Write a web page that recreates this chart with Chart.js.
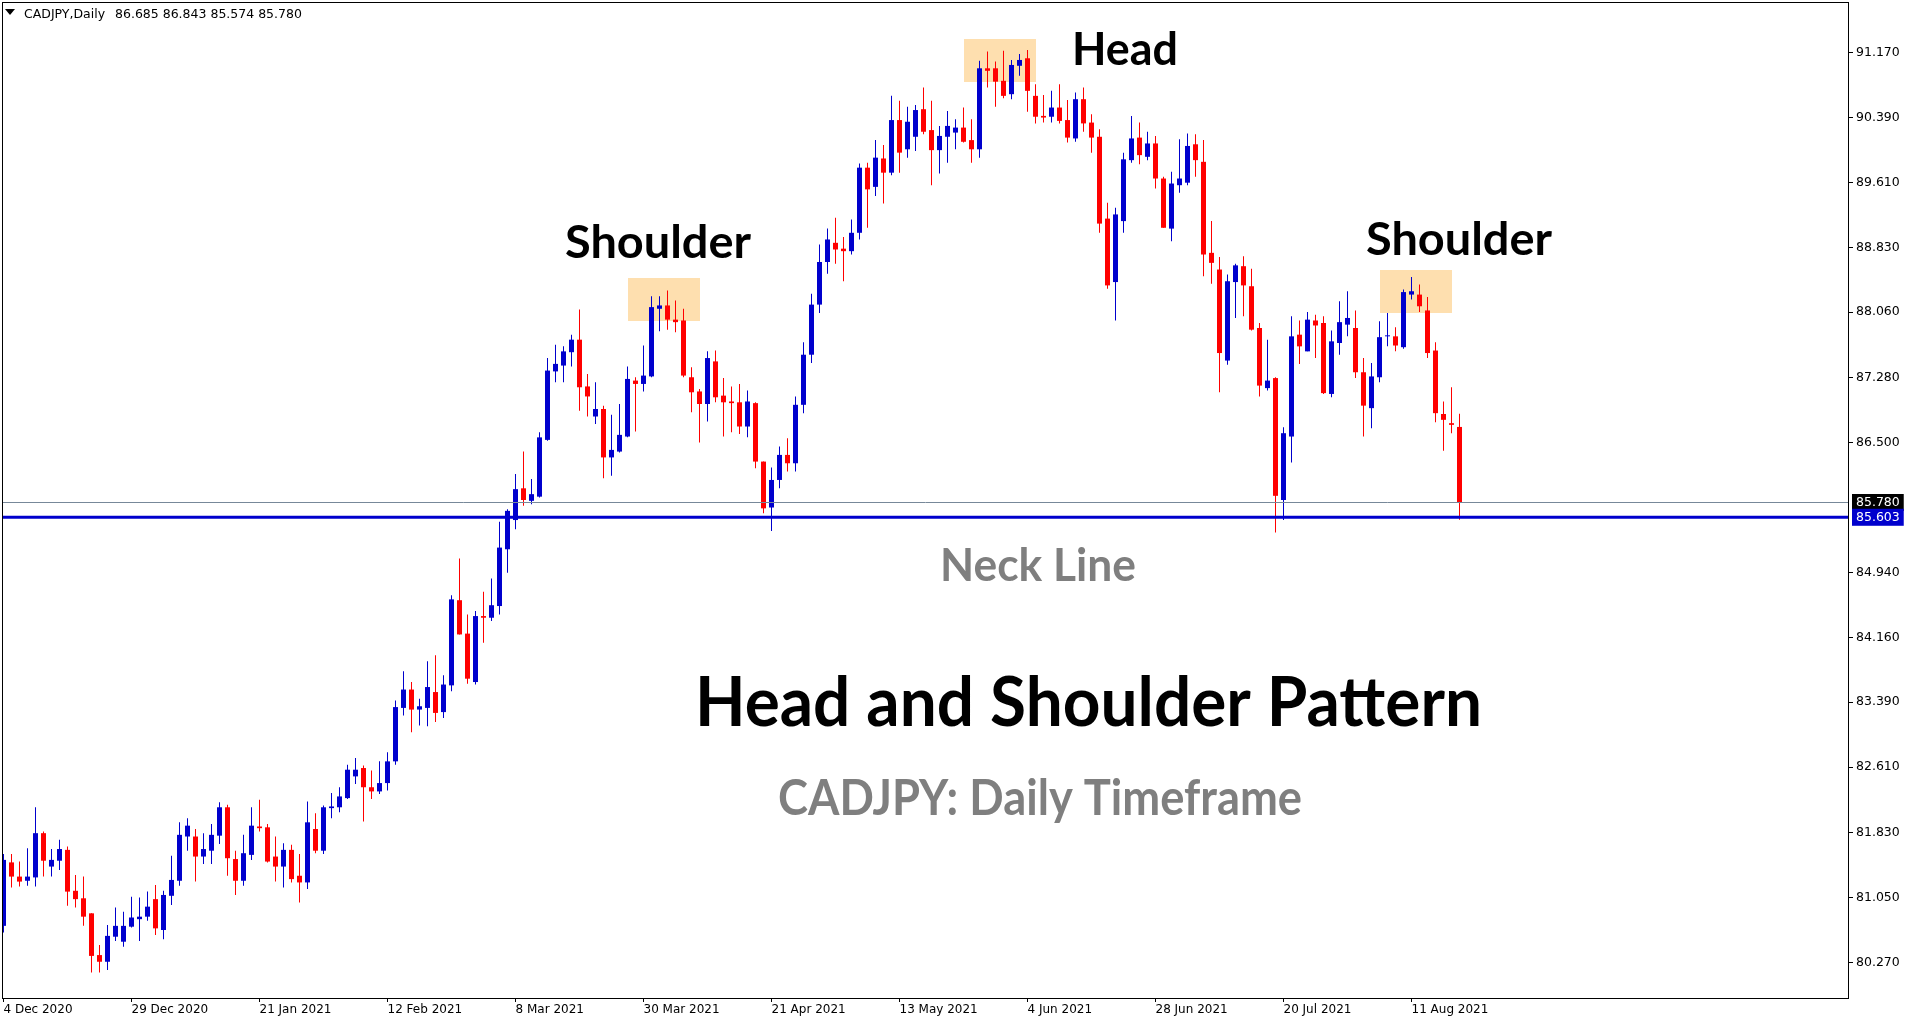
<!DOCTYPE html>
<html>
<head>
<meta charset="utf-8">
<title>CADJPY Daily - Head and Shoulder Pattern</title>
<script src="https://cdn.jsdelivr.net/npm/chart.js@4.4.1/dist/chart.umd.min.js"></script>
<style>
  html, body { margin: 0; padding: 0; background: #ffffff; overflow: hidden; }
  canvas { display: block; }
</style>
</head>
<body>
<canvas id="chart" width="1913" height="1023"></canvas>
<script>
// ---- CADJPY daily candles, 4 Dec 2020 onward (one entry per trading day) ----
const symbolLabel = 'CADJPY,Daily';

const opens = [
  80.71, 81.47, 81.30, 81.25, 81.29, 81.82, 81.42, 81.49, 81.62, 81.13,
  81.04, 80.86, 80.36, 80.28, 80.58, 80.52, 80.70, 80.79, 80.82, 81.03,
  80.66, 81.07, 81.25, 81.78, 81.78, 81.54, 81.61, 81.79, 82.13, 81.51,
  81.25, 81.56, 81.90, 81.89, 81.54, 81.42, 81.62, 81.31, 81.23, 81.87,
  81.61, 82.12, 82.13, 82.24, 82.50, 82.60, 82.37, 82.32, 82.42, 82.68,
  83.32, 83.54, 83.30, 83.32, 83.51, 83.27, 83.59, 84.61, 84.21, 83.63,
  84.42, 84.40, 84.54, 85.22, 85.57, 85.95, 85.80, 85.85, 86.53, 87.35,
  87.42, 87.58, 87.73, 87.17, 86.81, 86.90, 86.32, 86.39, 86.57, 87.24,
  87.20, 87.29, 88.10, 88.14, 87.97, 87.96, 87.28, 87.11, 86.96, 87.47,
  87.06, 86.99, 86.98, 86.69, 86.97, 86.27, 85.72, 86.05, 86.35, 86.25,
  86.95, 87.55, 88.15, 88.66, 88.89, 88.82, 88.79, 89.01, 89.79, 89.56,
  89.90, 89.73, 90.36, 90.01, 90.16, 90.49, 90.24, 90.00, 90.16, 90.21,
  90.27, 90.12, 90.01, 90.98, 90.98, 90.83, 90.67, 91.01, 91.10, 90.65,
  90.41, 90.40, 90.51, 90.36, 90.14, 90.61, 90.33, 90.16, 89.18, 88.42,
  89.15, 89.88, 90.15, 89.92, 90.08, 89.66, 89.06, 89.58, 89.61, 90.07,
  89.86, 88.77, 88.57, 87.48, 88.42, 88.61, 88.37, 87.87, 87.15, 87.27,
  85.81, 86.57, 87.79, 87.59, 87.96, 87.93, 87.08, 87.69, 87.91, 87.87,
  87.34, 86.91, 87.28, 87.77, 87.77, 87.64, 88.27, 88.27, 88.08, 87.60,
  86.84, 86.73, 86.685
];

const highs = [
  81.57, 81.57, 81.48, 81.64, 82.13, 81.84, 81.63, 81.74, 81.66, 81.32,
  81.30, 80.86, 80.48, 80.72, 80.93, 80.88, 81.06, 81.05, 81.12, 81.20,
  81.13, 81.55, 81.95, 82.00, 81.87, 81.82, 81.93, 82.19, 82.16, 81.61,
  81.80, 82.13, 82.22, 81.93, 81.78, 81.70, 81.68, 81.57, 82.20, 82.06,
  82.15, 82.30, 82.37, 82.64, 82.72, 82.63, 82.57, 82.68, 82.79, 83.41,
  83.76, 83.63, 83.43, 83.88, 83.95, 83.71, 84.67, 85.11, 84.44, 84.48,
  84.71, 84.87, 85.55, 85.70, 86.12, 86.39, 86.06, 86.62, 87.51, 87.67,
  87.65, 87.79, 88.09, 87.32, 87.22, 86.94, 86.83, 86.96, 87.41, 87.28,
  87.66, 88.25, 88.25, 88.32, 88.20, 88.10, 87.40, 87.14, 87.59, 87.60,
  87.27, 87.17, 87.20, 87.12, 86.98, 86.27, 86.20, 86.45, 86.55, 87.05,
  87.70, 88.28, 88.87, 89.06, 89.19, 88.96, 89.17, 89.84, 89.85, 90.12,
  90.06, 90.65, 90.59, 90.52, 90.54, 90.75, 90.59, 90.29, 90.47, 90.37,
  90.51, 90.37, 91.07, 91.18, 91.06, 91.19, 91.08, 91.15, 91.20, 90.79,
  90.66, 90.71, 90.79, 90.60, 90.69, 90.75, 90.43, 90.25, 89.37, 89.31,
  89.97, 90.41, 90.33, 90.22, 90.17, 89.68, 89.74, 90.13, 90.20, 90.19,
  90.12, 89.15, 88.72, 88.51, 88.64, 88.73, 88.58, 87.93, 87.73, 87.28,
  86.68, 88.01, 87.96, 88.06, 88.03, 88.01, 87.84, 88.19, 88.31, 88.08,
  87.51, 87.45, 87.95, 88.05, 87.88, 88.33, 88.48, 88.39, 88.24, 87.70,
  86.99, 87.16, 86.843
];

const lows = [
  80.63, 81.17, 81.18, 81.19, 81.18, 81.30, 81.30, 81.38, 80.95, 80.93,
  80.71, 80.15, 80.15, 80.18, 80.53, 80.46, 80.69, 80.53, 80.77, 80.60,
  80.55, 80.96, 81.19, 81.61, 81.24, 81.45, 81.45, 81.69, 81.31, 81.08,
  81.19, 81.50, 81.84, 81.47, 81.24, 81.17, 81.23, 80.99, 81.15, 81.58,
  81.57, 82.00, 82.07, 82.23, 82.41, 81.96, 82.23, 82.29, 82.33, 82.64,
  83.23, 83.03, 83.11, 83.10, 83.15, 83.20, 83.52, 84.20, 83.61, 83.60,
  84.10, 84.36, 84.44, 84.94, 85.46, 85.74, 85.76, 85.84, 86.52, 87.22,
  87.22, 87.41, 86.88, 86.81, 86.72, 86.07, 86.10, 86.38, 86.56, 86.63,
  87.11, 87.28, 87.83, 87.85, 87.82, 87.28, 86.86, 86.50, 86.75, 86.98,
  86.57, 86.62, 86.60, 86.56, 86.19, 85.65, 85.44, 85.95, 86.15, 86.15,
  86.85, 87.45, 88.05, 88.52, 88.64, 88.43, 88.75, 88.93, 89.07, 89.45,
  89.36, 89.70, 89.73, 89.91, 89.99, 90.19, 89.58, 89.72, 89.85, 90.01,
  90.09, 89.85, 89.91, 90.75, 90.52, 90.62, 90.61, 90.89, 90.46, 90.32,
  90.33, 90.33, 90.32, 90.09, 90.10, 90.22, 89.97, 89.01, 88.34, 87.96,
  89.01, 89.85, 89.83, 89.88, 89.54, 89.07, 88.91, 89.49, 89.58, 89.68,
  88.49, 88.40, 87.10, 87.43, 87.99, 88.01, 87.84, 87.05, 87.12, 85.42,
  85.57, 86.26, 87.44, 87.59, 87.51, 87.08, 87.04, 87.55, 87.77, 87.27,
  86.57, 86.67, 87.22, 87.65, 87.59, 87.62, 88.21, 88.06, 87.51, 86.74,
  86.40, 86.61, 85.574
];

const closes = [
  81.50, 81.30, 81.24, 81.30, 81.82, 81.49, 81.50, 81.63, 81.12, 81.03,
  80.82, 80.35, 80.28, 80.59, 80.71, 80.71, 80.81, 80.82, 80.94, 80.68,
  81.08, 81.26, 81.80, 81.91, 81.54, 81.63, 81.80, 82.13, 81.52, 81.25,
  81.58, 81.91, 81.88, 81.48, 81.42, 81.62, 81.27, 81.23, 81.95, 81.61,
  82.13, 82.14, 82.26, 82.58, 82.58, 82.37, 82.32, 82.42, 82.68, 83.33,
  83.54, 83.30, 83.34, 83.57, 83.26, 83.60, 84.62, 84.20, 83.67, 84.42,
  84.40, 84.55, 85.24, 85.68, 85.94, 85.81, 85.88, 86.56, 87.36, 87.44,
  87.59, 87.73, 87.16, 87.05, 86.90, 86.32, 86.41, 86.59, 87.26, 87.20,
  87.30, 88.12, 88.14, 87.97, 87.94, 87.30, 87.10, 86.96, 87.51, 87.04,
  86.98, 86.97, 86.69, 86.99, 86.27, 85.71, 86.05, 86.35, 86.25, 86.95,
  87.55, 88.15, 88.66, 88.93, 88.81, 88.79, 89.01, 89.79, 89.53, 89.91,
  89.73, 90.36, 89.97, 90.34, 90.48, 90.22, 90.00, 90.17, 90.29, 90.27,
  90.10, 90.01, 90.98, 90.95, 90.82, 90.65, 91.02, 91.08, 90.71, 90.40,
  90.39, 90.51, 90.35, 90.15, 90.61, 90.32, 90.15, 89.12, 88.38, 89.23,
  89.89, 90.14, 89.94, 90.08, 89.66, 89.07, 89.60, 89.66, 90.05, 89.88,
  88.75, 88.65, 87.57, 88.43, 88.62, 88.38, 87.85, 87.18, 87.24, 85.86,
  86.61, 87.77, 87.65, 87.97, 87.90, 87.09, 87.71, 87.94, 87.99, 87.34,
  86.94, 87.29, 87.76, 87.78, 87.66, 88.30, 88.31, 88.13, 87.57, 86.85,
  86.77, 86.71, 85.780
];

// Date labels on the time axis, one every `dateStep` bars
const dateTicks = [
  '4 Dec 2020', '29 Dec 2020', '21 Jan 2021', '12 Feb 2021', '8 Mar 2021', '30 Mar 2021',
  '21 Apr 2021', '13 May 2021', '4 Jun 2021', '28 Jun 2021', '20 Jul 2021', '11 Aug 2021'
];
const dateStep = 16;

// Price grid labels
const priceTicks = [91.170, 90.390, 89.610, 88.830, 88.060, 87.280, 86.500,
                    84.940, 84.160, 83.390, 82.610, 81.830, 81.050, 80.270];

// Horizontal levels
const neckLevel = 85.603;
const lastClose = closes[closes.length - 1];

// Highlighted pattern zones: first bar, last bar, lower price, upper price
const zoneStart = [78, 120, 172];
const zoneEnd   = [87, 129, 181];
const zoneLow   = [87.95, 90.81, 88.045];
const zoneHigh  = [88.47, 91.33, 88.57];

// ---- appearance ----
const BULL = '#0000CD';
const BEAR = '#FF0000';
const ZONE = '#FEDFAF';
const GRAY_TEXT = '#7F7F7F';

const bodyData = opens.map((o, i) => ({ x: i, y: [Math.min(o, closes[i]), Math.max(o, closes[i])] }));
const wickData = highs.map((h, i) => ({ x: i, y: [lows[i], h] }));
const candleColor = ctx => (closes[ctx.dataIndex] >= opens[ctx.dataIndex] ? BULL : BEAR);

const isMarker = v => v === neckLevel || v === lastClose;

// Draw text with its cap height and total width set explicitly
function drawBlockText(ctx, text, left, baseline, width, capHeight, color) {
  const size = capHeight / 0.7165;
  ctx.save();
  ctx.font = 'bold ' + size.toFixed(2) + 'px Lato';
  const w = ctx.measureText(text).width;
  ctx.translate(left, baseline);
  ctx.scale(width / w, 1);
  ctx.fillStyle = color;
  ctx.textAlign = 'left';
  ctx.textBaseline = 'alphabetic';
  ctx.fillText(text, 0, 0);
  ctx.restore();
}

const zonesPlugin = {
  id: 'zones',
  beforeDatasetsDraw(chart) {
    const { ctx, chartArea, scales: { x, y } } = chart;
    ctx.save();
    ctx.beginPath();
    ctx.rect(chartArea.left, chartArea.top, chartArea.right - chartArea.left, chartArea.bottom - chartArea.top);
    ctx.clip();
    ctx.fillStyle = ZONE;
    for (let i = 0; i < zoneStart.length; i++) {
      const x0 = Math.round(x.getPixelForValue(zoneStart[i]));
      const x1 = Math.round(x.getPixelForValue(zoneEnd[i]));
      const y0 = Math.round(y.getPixelForValue(zoneHigh[i]));
      const y1 = Math.round(y.getPixelForValue(zoneLow[i]));
      ctx.fillRect(x0, y0, x1 - x0, y1 - y0);
    }
    ctx.restore();
  }
};

const framePlugin = {
  id: 'frame',
  afterDraw(chart) {
    const { ctx, chartArea: a } = chart;
    ctx.save();
    ctx.strokeStyle = '#000000';
    ctx.lineWidth = 1;
    ctx.strokeRect(a.left + 0.5, a.top + 0.5, a.right - a.left - 1, a.bottom - a.top);

    // chart header
    ctx.fillStyle = '#000000';
    ctx.beginPath();
    ctx.moveTo(a.left + 3, 9);
    ctx.lineTo(a.left + 13, 9);
    ctx.lineTo(a.left + 8, 15);
    ctx.closePath();
    ctx.fill();
    ctx.font = '12.5px "DejaVu Sans"';
    ctx.textBaseline = 'alphabetic';
    ctx.textAlign = 'left';
    ctx.fillText(symbolLabel, 24, 18);
    const n = opens.length - 1;
    const ohlc = [opens[n], highs[n], lows[n], closes[n]].map(v => v.toFixed(3)).join(' ');
    ctx.fillText(ohlc, 115, 18);

    // pattern annotations
    drawBlockText(ctx, 'Shoulder', 565, 258, 186, 33, '#000000');
    drawBlockText(ctx, 'Head', 1072, 65, 106, 33, '#000000');
    drawBlockText(ctx, 'Shoulder', 1366, 255, 186, 33, '#000000');
    drawBlockText(ctx, 'Neck Line', 940, 581, 196, 33, GRAY_TEXT);
    drawBlockText(ctx, 'Head and Shoulder Pattern', 695, 726, 787, 49, '#000000');
    drawBlockText(ctx, 'CADJPY: Daily Timeframe', 778, 815, 524, 36, GRAY_TEXT);
    ctx.restore();
  }
};

function build() {
  const ctx = document.getElementById('chart').getContext('2d');
  new Chart(ctx, {
    type: 'bar',
    data: {
      datasets: [
        {
          label: 'Neck line',
          type: 'line',
          order: -2,
          data: [{ x: -5, y: neckLevel }, { x: 240, y: neckLevel }],
          borderColor: BULL,
          borderWidth: 3,
          pointRadius: 0,
          tension: 0
        },
        {
          label: 'Last price',
          type: 'line',
          order: -1,
          data: [{ x: -5, y: lastClose }, { x: 240, y: lastClose }],
          borderColor: '#778899',
          borderWidth: 1,
          pointRadius: 0,
          tension: 0
        },
        {
          label: 'Body',
          order: 0,
          data: bodyData,
          backgroundColor: candleColor,
          grouped: false,
          barPercentage: 1,
          categoryPercentage: 1,
          maxBarThickness: 5,
          minBarLength: 1,
          inflateAmount: 0,
          borderWidth: 0,
          borderSkipped: false
        },
        {
          label: 'Range',
          order: 1,
          data: wickData,
          backgroundColor: candleColor,
          grouped: false,
          barPercentage: 1,
          categoryPercentage: 1,
          maxBarThickness: 1,
          minBarLength: 1,
          inflateAmount: 0,
          borderWidth: 0,
          borderSkipped: false
        }
      ]
    },
    options: {
      responsive: false,
      animation: false,
      devicePixelRatio: 1,
      events: [],
      layout: { padding: { left: 2, top: 2, right: 0, bottom: 0 } },
      plugins: { legend: { display: false }, tooltip: { enabled: false } },
      scales: {
        x: {
          type: 'linear',
          offset: false,
          min: -0.1875,
          max: 230.6875,
          afterBuildTicks: s => { s.ticks = dateTicks.map((_, i) => ({ value: i * dateStep })); },
          afterFit: s => { s.height = 25; s.paddingLeft = 0; s.paddingRight = 0; },
          border: { display: false },
          grid: { offset: false, drawOnChartArea: false, drawTicks: true, tickLength: 4, color: '#000000', lineWidth: 1 },
          ticks: {
            autoSkip: false,
            maxRotation: 0,
            minRotation: 0,
            align: 'start',
            padding: 1,
            color: '#000000',
            font: { family: '"DejaVu Sans"', size: 12 },
            callback: v => dateTicks[Math.round(v / dateStep)]
          }
        },
        y: {
          type: 'linear',
          position: 'right',
          min: 79.846,
          max: 91.774,
          afterBuildTicks: s => { s.ticks = priceTicks.concat([lastClose, neckLevel]).map(v => ({ value: v })); },
          afterFit: s => { s.width = 64; s.paddingTop = 0; s.paddingBottom = 0; },
          border: { display: false },
          grid: {
            drawOnChartArea: false,
            drawTicks: true,
            tickLength: 4,
            lineWidth: 1,
            color: c => (c.tick && isMarker(c.tick.value) ? 'rgba(0,0,0,0)' : '#000000')
          },
          ticks: {
            autoSkip: false,
            padding: 3,
            font: { family: '"DejaVu Sans"', size: 12.5 },
            color: c => (c.tick && isMarker(c.tick.value) ? '#FFFFFF' : '#000000'),
            showLabelBackdrop: c => !!(c.tick && isMarker(c.tick.value)),
            backdropColor: c => (c.tick && c.tick.value === neckLevel ? BULL : '#000000'),
            backdropPadding: { x: 4, y: 1 },
            callback: v => v.toFixed(3)
          }
        }
      }
    },
    plugins: [zonesPlugin, framePlugin]
  });
}

Promise.all([
  document.fonts.load('bold 40px Lato'),
  document.fonts.load('12px "DejaVu Sans"')
]).then(build, build);
</script>
</body>
</html>
